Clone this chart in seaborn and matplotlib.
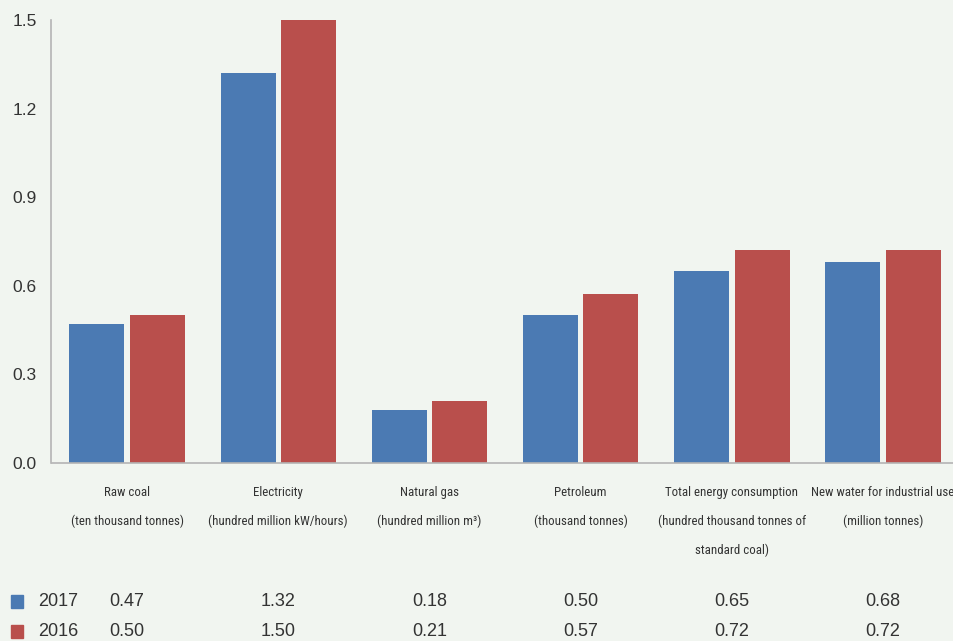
import pandas as pd
import numpy as np
import matplotlib
matplotlib.use("Agg")
import matplotlib.pyplot as plt
import matplotlib.patches as mpatches
import matplotlib.transforms as mtransforms
from matplotlib import font_manager
import seaborn as sns

# data
categories = [
    "Raw coal\n(ten thousand tonnes)",
    "Electricity\n(hundred million kW/hours)",
    "Natural gas\n(hundred million m\u00b3)",
    "Petroleum\n(thousand tonnes)",
    "Total energy consumption\n(hundred thousand tonnes of\nstandard coal)",
    "New water for industrial use\n(million tonnes)",
]
years = ["2017", "2016"]
vals_2017 = [0.47, 1.32, 0.18, 0.50, 0.65, 0.68]
vals_2016 = [0.50, 1.50, 0.21, 0.57, 0.72, 0.72]
yticks = [0.0, 0.3, 0.6, 0.9, 1.2, 1.5]

bg = "#f1f5f0"
blue = "#4b7ab3"
red = "#b94f4c"
grey = "#b4b4b4"
txt = "#333333"

df = pd.DataFrame({
    "category": categories * 2,
    "year": ["2017"] * 6 + ["2016"] * 6,
    "value": vals_2017 + vals_2016,
})

sns.set_style("white", rc={"axes.facecolor": bg, "figure.facecolor": bg})
plt.rcParams["font.family"] = ["Liberation Sans", "DejaVu Sans"]

# pick a narrow font for the category labels if one is there
names = {f.name for f in font_manager.fontManager.ttflist}
narrow = None
for cand in ["Roboto Condensed", "Liberation Sans Narrow", "Open Sans Condensed", "DejaVu Sans Condensed"]:
    if cand in names:
        narrow = cand
        break
condensed = [f for f in font_manager.fontManager.ttflist if f.stretch in ("condensed", "semi-condensed")]
if narrow is not None:
    lab_font = dict(family=[narrow, "DejaVu Sans"], fontsize=9.3)
elif condensed:
    lab_font = dict(family=[condensed[0].name, "DejaVu Sans"], fontstretch="condensed", fontsize=9.3)
else:
    lab_font = dict(family=["Roboto", "DejaVu Sans"], fontsize=8)

fig = plt.figure(figsize=(9.54, 6.41), dpi=100)
ax = fig.add_axes([51.5 / 954, 1 - 462.7 / 641, 907.2 / 954, 442.7 / 641])

sns.barplot(data=df, x="category", y="value", hue="year", hue_order=years,
            palette=[blue, red], width=0.8, gap=0.09, legend=False, ax=ax,
            saturation=1, edgecolor="none")

ax.set_xlim(-0.5, 5.5)
ax.set_ylim(0, 1.5)
ax.set_yticks(yticks)
ax.set_yticklabels([f"{t:.1f}" for t in yticks], fontsize=12.5, color=txt)
ax.set_xlabel("")
ax.set_ylabel("")

ax.set_xticks(range(6))
ax.set_xticklabels(categories, color=txt, linespacing=2.53, **lab_font)
ax.set_xticks(np.arange(-0.5, 6.0, 1.0), minor=True)
ax.tick_params(axis="x", which="major", length=0, pad=16.5)
ax.tick_params(axis="x", which="minor", length=7.5, width=1.2, color=grey, direction="out")
ax.tick_params(axis="y", length=5.5, width=1.0, color=grey, direction="out", pad=5)

for s in ["top", "right"]:
    ax.spines[s].set_visible(False)
for s in ["left", "bottom"]:
    ax.spines[s].set_color(grey)
    ax.spines[s].set_linewidth(1.2)

# table below the chart
trans = mtransforms.blended_transform_factory(ax.transData, fig.transFigure)
rows = [("2017", blue, vals_2017, 601), ("2016", red, vals_2016, 631)]
for name, col, vals, ypx in rows:
    yf = 1 - ypx / 641
    fig.patches.append(mpatches.Rectangle((11 / 954, yf - 6.5 / 641), 12 / 954, 13 / 641,
                                          transform=fig.transFigure, color=col))
    fig.text(38 / 954, yf, name, fontsize=13, color=txt, va="center", ha="left")
    for i, v in enumerate(vals):
        ax.text(i, yf, f"{v:.2f}", transform=trans, fontsize=13, color=txt,
                va="center", ha="center", clip_on=False)

fig.savefig("out.png", dpi=100, facecolor=bg)
